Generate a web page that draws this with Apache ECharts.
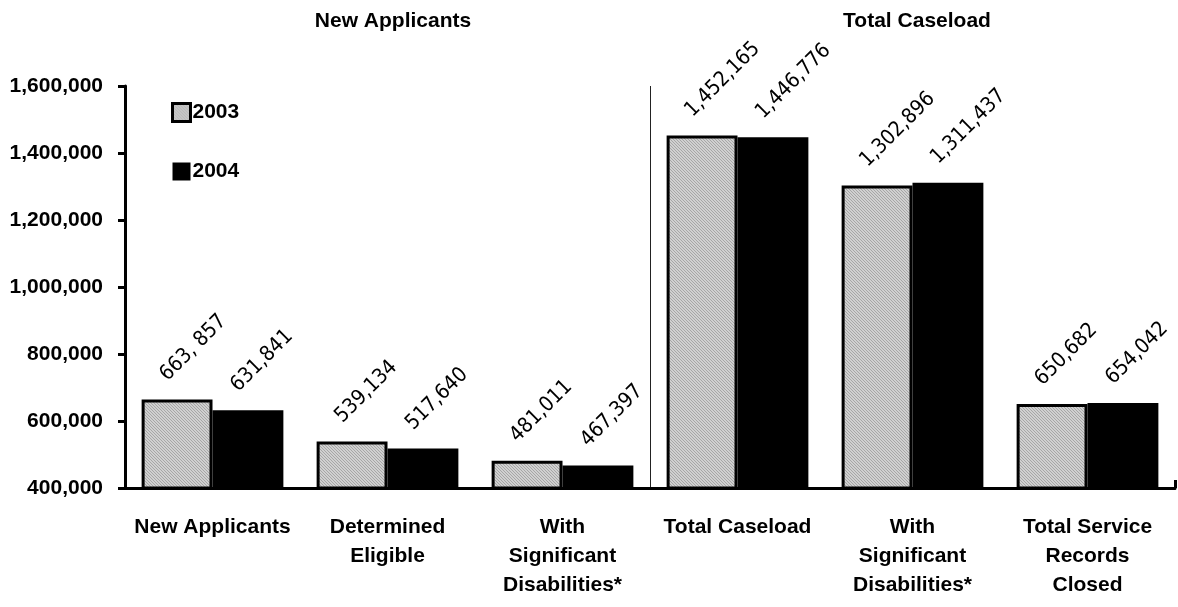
<!DOCTYPE html>
<html>
<head>
<meta charset="utf-8">
<script src="https://cdn.jsdelivr.net/npm/echarts@6/dist/echarts.min.js"></script>
<style>
html,body{margin:0;padding:0;background:#fff;}
#chart{width:1178px;height:607px;}
</style>
</head>
<body>
<div id="chart"></div>
<script>
// ---- data ----
const categories = ['New Applicants', 'Determined\nEligible', 'With\nSignificant\nDisabilities*', 'Total Caseload', 'With\nSignificant\nDisabilities*', 'Total Service\nRecords\nClosed'];
const seriesNames = ['2003', '2004'];
const values2003 = [663857, 539134, 481011, 1452165, 1302896, 650682];
const values2004 = [631841, 517640, 467397, 1446776, 1311437, 654042];
const labels2003 = ['663, 857', '539,134', '481,011', '1,452,165', '1,302,896', '650,682'];
const labels2004 = ['631,841', '517,640', '467,397', '1,446,776', '1,311,437', '654,042'];
const groupTitles = ['New Applicants', 'Total Caseload'];
const yMin = 400000, yMax = 1600000, yStep = 200000;

// hatch pattern for 2003 bars
function makeHatch() {
  const c = document.createElement('canvas');
  c.width = 3; c.height = 3;
  const g = c.getContext('2d');
  g.fillStyle = '#d0d0d0';
  g.fillRect(0, 0, 3, 3);
  g.fillStyle = '#a6a6a6';
  for (let i = 0; i < 3; i++) g.fillRect(i, i, 1, 1);
  return c;
}
const hatch = { image: makeHatch(), repeat: 'repeat' };

const labelFont = 'DejaVu Sans Condensed, DejaVu Sans, sans-serif';
const axisFont = 'Liberation Sans, Arial, sans-serif';
const T = 'rgba(0,0,0,0)';

const chart = echarts.init(document.getElementById('chart'), null, { renderer: 'canvas' });
chart.setOption({
  animation: false,
  backgroundColor: '#ffffff',
  title: [
    { text: groupTitles[0], left: 388, top: 6, textAlign: 'center',
      textStyle: { fontFamily: axisFont, fontWeight: 'bold', fontSize: 21, color: '#000' } },
    { text: groupTitles[1], left: 912, top: 6, textAlign: 'center',
      textStyle: { fontFamily: axisFont, fontWeight: 'bold', fontSize: 21, color: '#000' } }
  ],
  legend: {
    data: [
      { name: seriesNames[0], itemStyle: { borderWidth: 3, borderColor: '#000' } },
      { name: seriesNames[1] }
    ],
    orient: 'vertical',
    left: 171, top: 102,
    padding: 0,
    itemWidth: 18, itemHeight: 18, itemGap: 38,
    icon: 'rect',
    textStyle: { fontFamily: axisFont, fontWeight: 'bold', fontSize: 21, color: '#000', padding: [0, 0, 0, -3] }
  },
  grid: { left: 125, right: 3, top: 86, bottom: 119, containLabel: false },
  xAxis: {
    type: 'category',
    data: categories,
    axisLine: { show: true, lineStyle: { color: '#000', width: 3 } },
    axisTick: { show: true, inside: true, length: 8, alignWithLabel: false, lineStyle: { color: '#000', width: 3 },
      interval: function (i) { return i === 3; } },
    axisLabel: { interval: 0, margin: 25, fontFamily: axisFont, fontWeight: 'bold', fontSize: 21,
      lineHeight: 29, color: '#000', align: 'center' },
    splitLine: { show: true, interval: 0,
      lineStyle: { color: [T, T, T, '#222', T, T, T], width: 1 } }
  },
  yAxis: {
    type: 'value',
    min: yMin, max: yMax, interval: yStep,
    axisLine: { show: true, lineStyle: { color: '#000', width: 3 } },
    axisTick: { show: true, length: 7, lineStyle: { color: '#000', width: 3 } },
    splitLine: { show: false },
    axisLabel: { margin: 22, fontFamily: axisFont, fontWeight: 'bold', fontSize: 21, color: '#000',
      formatter: function (v) { return v.toLocaleString('en-US'); } }
  },
  series: [
    {
      name: seriesNames[0], type: 'bar', data: values2003,
      barGap: '0%', barCategoryGap: '19%',
      itemStyle: { color: hatch, borderColor: '#000', borderWidth: 3 },
      label: { show: true, position: ['31%', -22], rotate: 45, align: 'left', verticalAlign: 'middle',
        fontFamily: labelFont, fontSize: 21, color: '#000',
        formatter: function (p) { return labels2003[p.dataIndex]; } }
    },
    {
      name: seriesNames[1], type: 'bar', data: values2004,
      barGap: '0%', barCategoryGap: '19%',
      itemStyle: { color: '#000', borderColor: '#000', borderWidth: 0 },
      label: { show: true, position: ['31%', -22], rotate: 45, align: 'left', verticalAlign: 'middle',
        fontFamily: labelFont, fontSize: 21, color: '#000',
        formatter: function (p) { return labels2004[p.dataIndex]; } }
    }
  ]
});
</script>
</body>
</html>
